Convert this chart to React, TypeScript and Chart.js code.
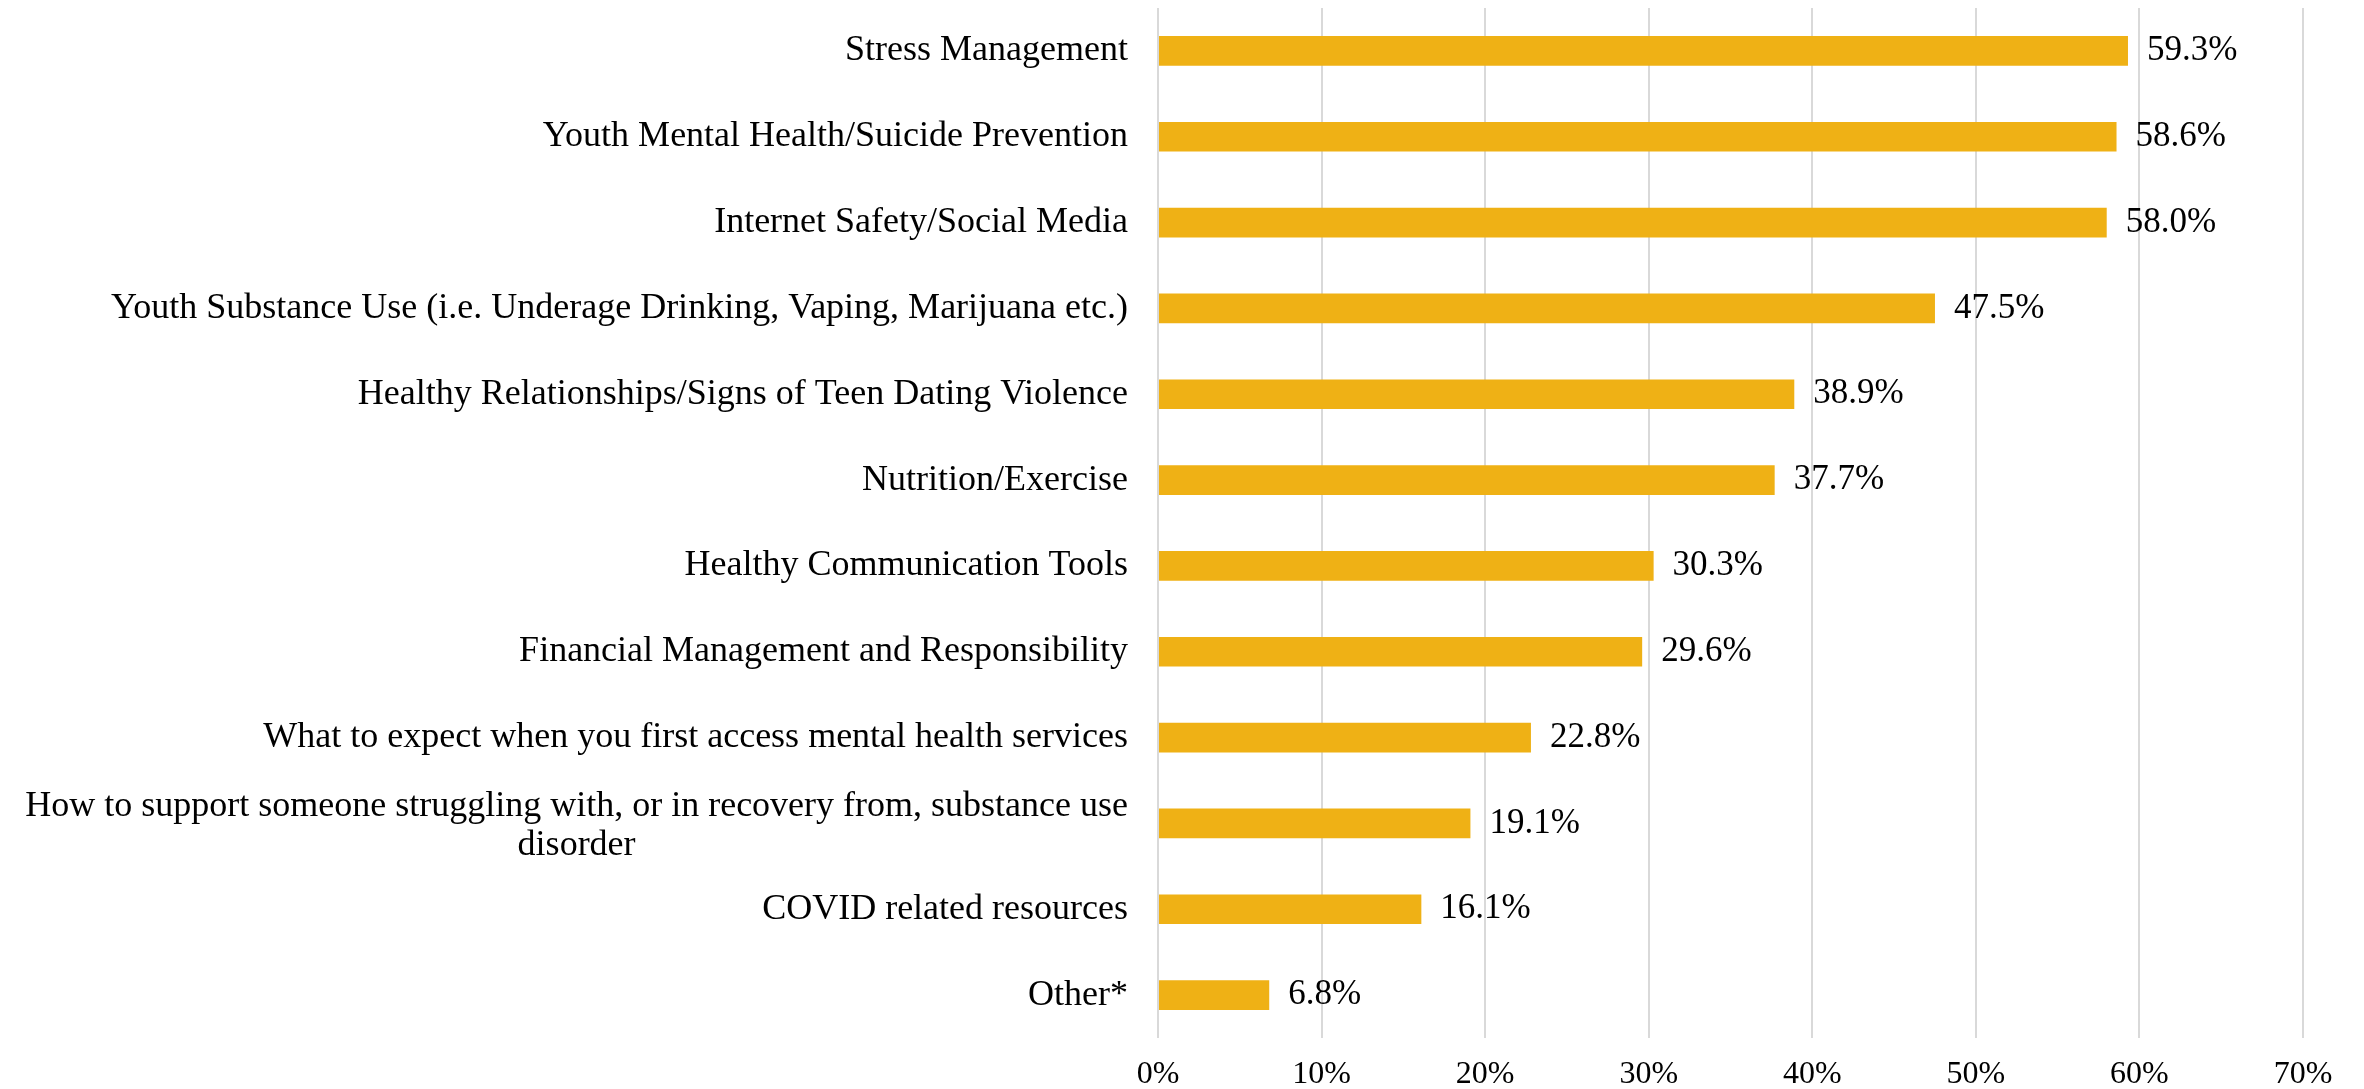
import React, { useEffect, useRef } from "react";
import { Chart, registerables } from "chart.js";

Chart.register(...registerables);

const categories: (string | string[])[] = [
  "Stress Management",
  "Youth Mental Health/Suicide Prevention",
  "Internet Safety/Social Media",
  "Youth Substance Use (i.e. Underage Drinking, Vaping, Marijuana etc.)",
  "Healthy Relationships/Signs of Teen Dating Violence",
  "Nutrition/Exercise",
  "Healthy Communication Tools",
  "Financial Management and Responsibility",
  "What to expect when you first access mental health services",
  ["How to support someone struggling with, or in recovery from, substance use", "disorder"],
  "COVID related resources",
  "Other*",
];

const values: number[] = [59.3, 58.6, 58.0, 47.5, 38.9, 37.7, 30.3, 29.6, 22.8, 19.1, 16.1, 6.8];

const xTickMax = 70;
const xTickStep = 10;

const FONT = '"Liberation Serif", "Times New Roman", serif';
const BAR_COLOR = "#EFB115";

const labelPlugin = {
  id: "customLabels",
  afterDraw(chart: any) {
    const ctx = chart.ctx as CanvasRenderingContext2D;
    const yScale = chart.scales.y;
    ctx.save();
    ctx.fillStyle = "#000";
    ctx.textBaseline = "middle";
    ctx.font = `36px ${FONT}`;
    const rightX = yScale.right - 30;
    categories.forEach((c, i) => {
      const py = yScale.getPixelForValue(i);
      const lines = Array.isArray(c) ? c : [c];
      if (lines.length === 1) {
        ctx.textAlign = "right";
        ctx.fillText(lines[0], rightX, py);
      } else {
        const w = Math.max(...lines.map((l) => ctx.measureText(l).width));
        const cx = rightX - w / 2;
        ctx.textAlign = "center";
        const lh = 39;
        lines.forEach((l, j) => {
          ctx.fillText(l, cx, py + 3 + (j - (lines.length - 1) / 2) * lh);
        });
      }
    });
    ctx.font = `35px ${FONT}`;
    const meta = chart.getDatasetMeta(0);
    ctx.textAlign = "left";
    meta.data.forEach((bar: any, i: number) => {
      ctx.fillText(values[i].toFixed(1) + "%", bar.x + 19, bar.y);
    });
    ctx.restore();
  },
};

export default function App() {
  const ref = useRef<HTMLCanvasElement | null>(null);
  useEffect(() => {
    if (!ref.current) return;
    const chart = new Chart(ref.current, {
      type: "bar",
      data: {
        labels: categories.map((c) => (Array.isArray(c) ? c.join(" ") : c)),
        datasets: [
          {
            data: values,
            backgroundColor: BAR_COLOR,
            borderWidth: 0,
            categoryPercentage: 1,
            barPercentage: 0.345,
          },
        ],
      },
      options: {
        indexAxis: "y",
        animation: false,
        responsive: false,
        maintainAspectRatio: false,
        layout: { padding: { left: 0, right: 61, top: 8, bottom: 0 } },
        plugins: {
          legend: { display: false },
          tooltip: { enabled: false },
          title: { display: false },
        },
        scales: {
          x: {
            min: 0,
            max: xTickMax,
            ticks: {
              stepSize: xTickStep,
              callback: (v: any) => v + "%",
              font: { family: FONT, size: 32 },
              color: "#000",
              padding: 17,
            },
            grid: { color: "#d9d9d9", lineWidth: 2, drawTicks: false },
            border: { display: false },
            afterFit: (scale: any) => {
              scale.height = 51;
            },
          },
          y: {
            offset: true,
            ticks: { display: false },
            grid: { display: false },
            border: { display: false },
            afterFit: (scale: any) => {
              scale.width = 1158;
            },
          },
        },
      },
      plugins: [labelPlugin],
    });
    return () => chart.destroy();
  }, []);
  return (
    <div style={{ position: "fixed", left: 0, top: 0, width: 2364, height: 1089, background: "#fff" }}>
      <canvas ref={ref} width={2364} height={1089} style={{ display: "block", width: 2364, height: 1089 }} />
    </div>
  );
}
